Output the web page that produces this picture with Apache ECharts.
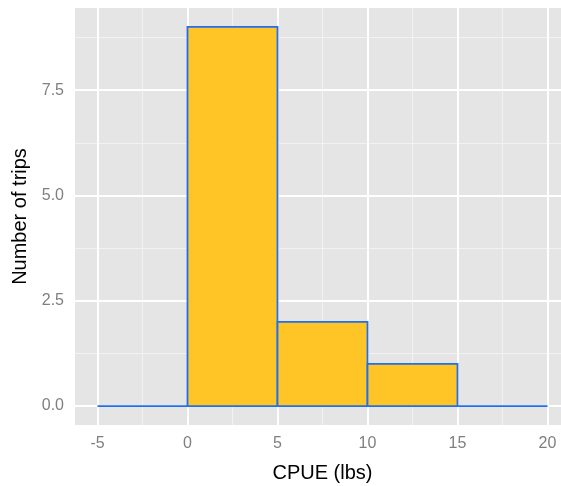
<!DOCTYPE html>
<html>
<head>
<meta charset="utf-8">
<script src="https://cdn.jsdelivr.net/npm/echarts@6/dist/echarts.min.js"></script>
<style>
html,body{margin:0;padding:0;background:#fff;}
#main{width:561px;height:486px;}
</style>
</head>
<body>
<div id="main"></div>
<script>
// Data
const binStarts = [-5, 0, 5, 10, 15];
const binWidth = 5;
const counts = [0, 9, 2, 1, 0];
const xTicks = [-5, 0, 5, 10, 15, 20];
const xMinor = [-2.5, 2.5, 7.5, 12.5, 17.5];
const yTicks = [0, 2.5, 5, 7.5];
const yMinor = [1.25, 3.75, 6.25, 8.75];

const chart = echarts.init(document.getElementById('main'), null, {renderer: 'canvas'});
const FONT = '"Liberation Sans", Arial, sans-serif';

const histData = binStarts.map((s, i) => [s, s + binWidth, counts[i]]);

function gridLineSeries(axis, values, color, width, z) {
  return {
    type: 'line', data: [], silent: true, z: z,
    markLine: {
      silent: true, symbol: 'none', animation: false,
      label: {show: false},
      lineStyle: {color: color, width: width, type: 'solid'},
      emphasis: {disabled: true},
      data: values.map(v => ({[axis]: v}))
    }
  };
}

chart.setOption({
  animation: false,
  grid: {
    left: 75, top: 8, width: 495, height: 417,
    outerBoundsMode: 'none', containLabel: false,
    show: true, backgroundColor: '#E5E5E5', borderWidth: 0
  },
  xAxis: {
    type: 'value', min: -6.25, max: 21.25,
    name: 'CPUE (lbs)', nameLocation: 'middle', nameGap: 38,
    nameTextStyle: {fontFamily: FONT, fontSize: 20, color: '#000'},
    axisLine: {show: false},
    splitLine: {show: false},
    axisTick: {show: true, customValues: xTicks, length: 5, lineStyle: {color: '#7F7F7F', width: 1}},
    axisLabel: {customValues: xTicks, fontFamily: FONT, fontSize: 16, color: '#7F7F7F', margin: 11}
  },
  yAxis: {
    type: 'value', min: -0.45, max: 9.45,
    name: 'Number of trips', nameLocation: 'middle', nameGap: 37, nameRotate: 90,
    nameTextStyle: {fontFamily: FONT, fontSize: 20, color: '#000'},
    axisLine: {show: false},
    splitLine: {show: false},
    axisTick: {show: true, customValues: yTicks, length: 5, lineStyle: {color: '#7F7F7F', width: 1}},
    axisLabel: {customValues: yTicks, fontFamily: FONT, fontSize: 16, color: '#7F7F7F', margin: 11,
      formatter: v => v.toFixed(1)}
  },
  series: [
    gridLineSeries('xAxis', xMinor, '#F2F2F2', 1, 1),
    gridLineSeries('yAxis', yMinor, '#F2F2F2', 1, 1),
    gridLineSeries('xAxis', xTicks, '#FFFFFF', 2, 2),
    gridLineSeries('yAxis', yTicks, '#FFFFFF', 2, 2),
    {
      type: 'custom', z: 5,
      data: histData,
      renderItem: function (params, api) {
        const p0 = api.coord([api.value(0), api.value(2)]);
        const p1 = api.coord([api.value(1), 0]);
        return {
          type: 'rect',
          shape: {x: p0[0], y: p0[1], width: p1[0] - p0[0], height: p1[1] - p0[1]},
          style: {fill: '#FFC526', stroke: '#1F6FF0', lineWidth: 1.8}
        };
      }
    }
  ]
});
</script>
</body>
</html>
